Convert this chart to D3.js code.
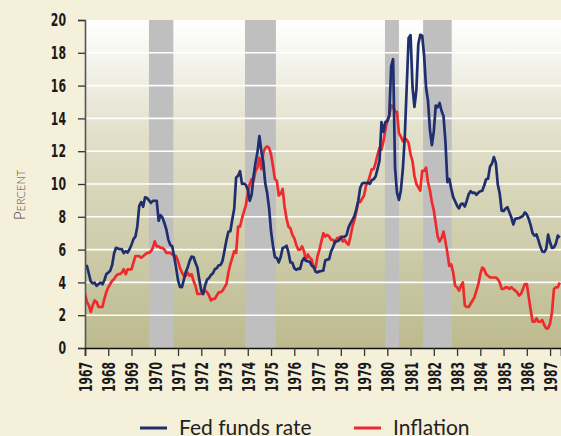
<!DOCTYPE html>
<html><head><meta charset="utf-8">
<script src="https://cdn.jsdelivr.net/npm/d3@7"></script>
<style>
html,body{margin:0;padding:0;background:#F5F0DA;}
svg{display:block;}
.num{font-family:"Liberation Sans Narrow","DejaVu Sans Condensed",sans-serif;font-weight:bold;font-size:18px;fill:#1a1a1a;}
</style></head>
<body>
<script>
// ---- Data (monthly, Jan 1967 .. Jun 1987) ----
const startYear = 1967;
const fedFunds = [
4.94,5.00,4.53,4.05,3.94,3.98,3.79,3.90,3.99,3.88,4.13,4.51,
4.60,4.71,5.05,5.76,6.11,6.07,6.02,6.03,5.78,5.91,5.82,6.02,
6.30,6.64,6.79,7.41,8.67,8.90,8.61,9.19,9.15,9.00,8.85,8.97,
8.98,8.98,7.76,8.10,7.95,7.61,7.21,6.61,6.29,6.20,5.60,4.90,
4.14,3.72,3.71,4.15,4.63,4.91,5.31,5.57,5.55,5.20,4.91,4.14,
3.50,3.29,3.83,4.17,4.27,4.46,4.55,4.80,4.87,5.04,5.06,5.33,
5.94,6.58,7.09,7.12,7.84,8.49,10.40,10.50,10.78,10.01,10.03,9.95,
9.65,8.97,9.35,10.51,11.31,11.93,12.92,12.01,11.34,10.06,9.45,8.53,
7.13,6.24,5.54,5.49,5.22,5.55,6.10,6.14,6.24,5.82,5.22,5.20,
4.87,4.77,4.84,4.82,5.29,5.48,5.31,5.29,5.25,5.02,4.95,4.65,
4.61,4.68,4.69,4.73,5.35,5.39,5.42,5.90,6.14,6.47,6.51,6.56,
6.70,6.78,6.79,6.89,7.36,7.60,7.81,8.04,8.45,8.96,9.76,10.03,
10.07,10.06,10.09,10.01,10.24,10.29,10.47,10.94,11.43,13.77,13.18,13.78,
13.82,14.13,17.19,17.61,10.98,9.47,9.03,9.61,10.87,12.81,15.85,18.90,
19.08,15.93,14.70,15.72,18.52,19.10,19.04,17.82,15.87,15.08,13.31,12.37,
13.22,14.78,14.68,14.94,14.45,14.15,12.59,10.12,10.31,9.71,9.20,8.95,
8.68,8.51,8.77,8.80,8.63,8.98,9.37,9.56,9.45,9.48,9.34,9.47,
9.56,9.59,9.91,10.29,10.32,11.06,11.23,11.64,11.30,9.99,9.43,8.38,
8.35,8.50,8.58,8.27,7.97,7.53,7.88,7.90,7.92,7.99,8.05,8.27,
8.14,7.86,7.48,6.99,6.85,6.92,6.56,6.17,5.89,5.85,6.04,6.91,
6.43,6.10,6.13,6.37,6.85,6.73
];
const inflation = [
3.3,2.8,2.6,2.2,2.6,2.9,2.8,2.5,2.5,2.5,3.0,3.4,
3.7,3.9,4.1,4.2,4.4,4.5,4.5,4.6,4.8,4.5,4.8,4.8,
4.8,5.2,5.6,5.6,5.6,5.5,5.6,5.7,5.8,5.8,5.9,6.1,
6.5,6.2,6.2,6.1,6.1,6.0,5.8,5.8,5.8,5.7,5.6,5.6,
5.3,4.9,4.6,4.4,4.4,4.6,4.4,4.5,4.1,3.8,3.3,3.3,
3.3,3.5,3.5,3.4,3.2,2.9,3.0,3.0,3.2,3.4,3.4,3.5,
3.7,3.9,4.6,5.1,5.5,5.9,5.8,7.4,7.4,7.9,8.3,8.7,
9.4,10.0,10.3,10.2,10.8,11.0,11.6,10.9,11.9,12.2,12.3,12.2,
11.8,11.1,10.3,10.2,9.3,9.4,9.7,8.6,7.9,7.4,7.3,6.9,
6.7,6.3,6.0,6.0,6.2,5.9,5.4,5.7,5.5,5.4,4.9,4.9,
5.6,6.0,6.5,7.0,6.8,6.9,6.8,6.6,6.6,6.4,6.7,6.7,
6.8,6.5,6.6,6.4,6.3,6.8,7.4,7.8,8.3,8.9,8.9,9.1,
9.3,9.9,10.1,10.5,10.9,10.9,11.3,11.8,12.2,12.1,12.6,13.3,
13.9,14.2,14.8,14.7,14.4,14.4,13.1,12.9,12.6,12.8,12.7,12.5,
11.8,11.4,10.5,10.0,9.8,9.6,10.8,10.8,11.0,10.1,9.6,8.9,
8.4,7.6,6.8,6.5,6.7,7.1,6.5,5.8,5.0,5.1,4.6,3.8,
3.7,3.5,3.8,4.0,2.6,2.5,2.5,2.7,2.9,3.1,3.5,3.9,
4.5,4.9,4.8,4.5,4.4,4.3,4.3,4.3,4.3,4.2,4.0,3.6,
3.6,3.7,3.7,3.6,3.7,3.6,3.5,3.4,3.2,3.3,3.6,3.9,
3.9,3.1,2.3,1.6,1.6,1.8,1.6,1.6,1.7,1.4,1.2,1.2,
1.5,2.2,3.6,3.7,3.7,4.0
];
const recessionStarts = [1969.75, 1973.88, 1979.9, 1981.54];
const recessionEnds   = [1970.8, 1975.21, 1980.5, 1982.77];
const yearTicks = d3.range(1967, 1988);
const yTicks = [0,2,4,6,8,10,12,14,16,18,20];
const seriesNames = ["Fed funds rate", "Inflation"];
const seriesColors = ["#1F2E6E", "#EE2A2D"];

// ---- Chart ----
const W = 561, H = 436;
const svg = d3.select("body").append("svg").attr("width", W).attr("height", H);

const x = d3.scaleLinear().domain([1967, 1987.47]).range([85, 561]);
const y = d3.scaleLinear().domain([0, 20]).range([348, 20]);
const dateOf = i => startYear + i / 12;

const defs = svg.append("defs");
const grad = defs.append("linearGradient").attr("id","bg").attr("x1",0).attr("y1",0).attr("x2",0).attr("y2",1);
grad.append("stop").attr("offset","0%").attr("stop-color","#ffffff");
grad.append("stop").attr("offset","35%").attr("stop-color","#E2E0CA");
grad.append("stop").attr("offset","100%").attr("stop-color","#BCBA8D");
defs.append("clipPath").attr("id","clip").append("rect")
  .attr("x", x(1967)).attr("y", y(20)).attr("width", x.range()[1]-x(1967)).attr("height", y(0)-y(20));

svg.append("rect").attr("x", x(1967)).attr("y", y(20))
  .attr("width", x.range()[1]-x(1967)).attr("height", y(0)-y(20)).attr("fill","url(#bg)");

// recession bands
svg.append("g").selectAll("rect").data(recessionStarts).join("rect")
  .attr("x", (d,i) => x(d)).attr("width", (d,i) => x(recessionEnds[i]) - x(d))
  .attr("y", y(20)).attr("height", y(0)-y(20)).attr("fill","#BFBFBF");

// grid
svg.append("g").selectAll("line").data(yTicks.filter(v => v>0 && v<20)).join("line")
  .attr("x1", x(1967)).attr("x2", W).attr("y1", d => y(d)).attr("y2", d => y(d))
  .attr("stroke","#ffffff").attr("stroke-width",1.6);

// lines
const g = svg.append("g").attr("clip-path","url(#clip)");
const line = d3.line().x((d,i) => x(dateOf(i))).y(d => y(d));
[inflation, fedFunds].forEach((s, k) => {
  g.append("path").datum(s).attr("d", line).attr("fill","none")
   .attr("stroke", seriesColors[1-k]).attr("stroke-width", 2.7)
   .attr("stroke-linejoin","round");
});

// axes
const yAxis = svg.append("g").attr("transform", `translate(${x(1967)},0)`)
  .call(d3.axisLeft(y).tickValues(yTicks).tickSize(7).tickPadding(12).tickFormat(d3.format("d")));
yAxis.select(".domain").attr("stroke","#555").attr("stroke-width",1.6);
yAxis.selectAll(".tick line").attr("stroke","#333").attr("stroke-width",1.3);
yAxis.selectAll(".tick text").attr("class","num").attr("font-family",null).attr("font-size",null).attr("fill",null)
  .attr("textLength", d => String(d).length * 7.6).attr("lengthAdjust","spacingAndGlyphs");

const xAxis = svg.append("g").attr("transform", `translate(0,${y(0)})`)
  .call(d3.axisBottom(x).tickValues(yearTicks).tickSize(8).tickFormat(d3.format("d")));
xAxis.select(".domain").attr("stroke","#111").attr("stroke-width",1.6);
xAxis.selectAll(".tick line").attr("stroke","#333").attr("stroke-width",1.3);
xAxis.selectAll(".tick text").attr("class","num").attr("font-family",null).attr("font-size",null).attr("fill",null)
  .attr("transform","rotate(-90)").attr("text-anchor","end")
  .attr("x", -14).attr("y", 0).attr("dy","0.36em")
  .attr("textLength", 30).attr("lengthAdjust","spacingAndGlyphs");

// y label
svg.append("text").attr("transform","translate(25,195) rotate(-90)")
  .attr("text-anchor","middle")
  .style("font-family","Lato, 'Open Sans', sans-serif").style("font-size","15px")
  .style("font-variant","small-caps").style("font-weight","300").attr("fill","#444")
  .text("Percent");

// legend
const legX = [140, 354];
const leg = svg.append("g").selectAll("g").data(seriesNames).join("g")
  .attr("transform", (d,i) => `translate(${legX[i]},428)`);
leg.append("line").attr("x1",0).attr("x2",27).attr("y1",0).attr("y2",0)
  .attr("stroke",(d,i)=>seriesColors[i]).attr("stroke-width",3);
leg.append("text").attr("x",39).attr("y",7).text(d=>d)
  .style("font-family","Lato, sans-serif").style("font-size","21px").attr("fill","#222");
</script>
</body></html>
